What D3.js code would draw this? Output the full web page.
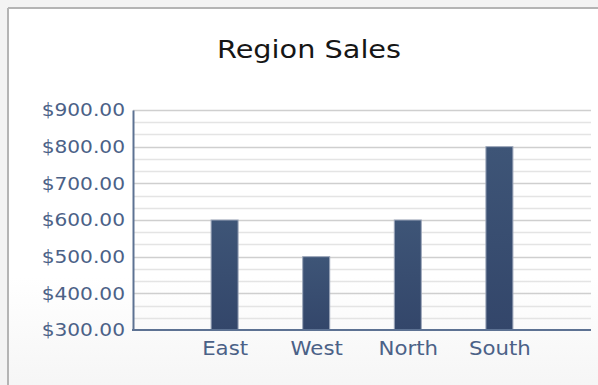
<!DOCTYPE html>
<html>
<head>
<meta charset="utf-8">
<script src="https://cdn.jsdelivr.net/npm/d3@7/dist/d3.min.js"></script>
<style>
  html, body { margin: 0; padding: 0; background: #f3f3f3; }
  svg { display: block; }
  text { font-family: "DejaVu Sans", Verdana, sans-serif; }
</style>
</head>
<body>
<svg id="chart" width="598" height="385"></svg>
<script>
// Sales per region
const regions = ["East", "West", "North", "South"];
const sales = [600, 500, 600, 800];
const yTicks = [300, 400, 500, 600, 700, 800, 900];
const chartTitle = "Region Sales";

const W = 598, H = 385;
const plot = { left: 133, right: 591, top: 110, bottom: 330 };

const svg = d3.select("#chart");
const defs = svg.append("defs");

// panel background: white fading to light grey near the bottom
const bg = defs.append("linearGradient").attr("id", "panelBg")
  .attr("x1", 0).attr("y1", 0).attr("x2", 0).attr("y2", 1);
bg.append("stop").attr("offset", "0.7").attr("stop-color", "#ffffff");
bg.append("stop").attr("offset", "1").attr("stop-color", "#f5f5f5");

const barGrad = defs.append("linearGradient").attr("id", "barFill")
  .attr("x1", 0).attr("y1", 0).attr("x2", 0).attr("y2", 1);
barGrad.append("stop").attr("offset", "0").attr("stop-color", "#3e5577");
barGrad.append("stop").attr("offset", "1").attr("stop-color", "#33466a");

// panel with a grey top/left frame
svg.append("rect").attr("x", 8).attr("y", 8).attr("width", W).attr("height", H)
  .attr("fill", "url(#panelBg)");
svg.append("line").attr("x1", 8).attr("x2", W).attr("y1", 8).attr("y2", 8)
  .attr("stroke", "#b4b4b4").attr("stroke-width", 2);
svg.append("line").attr("x1", 8).attr("x2", 8).attr("y1", 8).attr("y2", H)
  .attr("stroke", "#b4b4b4").attr("stroke-width", 2);

// widen glyphs slightly so text has the broad look of the original font
function stretch(sel, factor) {
  sel.each(function () {
    const len = this.getComputedTextLength();
    d3.select(this).attr("textLength", len * factor).attr("lengthAdjust", "spacingAndGlyphs");
  });
}

const y = d3.scaleLinear().domain([300, 900]).range([plot.bottom, plot.top]);
const x = d3.scalePoint().domain(regions).range([plot.left, plot.right]).padding(1);

// minor gridlines every third of a major step
const minor = [];
for (let i = 0; i < yTicks.length - 1; i++) {
  minor.push(yTicks[i] + 100 / 3, yTicks[i] + 200 / 3);
}
svg.append("g").selectAll("line").data(minor).join("line")
  .attr("x1", plot.left).attr("x2", plot.right)
  .attr("y1", d => Math.round(y(d)) + 0.5).attr("y2", d => Math.round(y(d)) + 0.5)
  .attr("stroke", "#e4e4e4").attr("stroke-width", 1.5);
svg.append("g").selectAll("line").data(yTicks.slice(1)).join("line")
  .attr("x1", plot.left).attr("x2", plot.right)
  .attr("y1", d => Math.round(y(d)) + 0.5).attr("y2", d => Math.round(y(d)) + 0.5)
  .attr("stroke", "#cfcfcf").attr("stroke-width", 1.5);

// bars
svg.append("g").selectAll("rect").data(regions).join("rect")
  .attr("x", d => x(d) - 13.5)
  .attr("width", 27)
  .attr("y", (d, i) => y(sales[i]))
  .attr("height", (d, i) => y(300) - y(sales[i]))
  .attr("fill", "url(#barFill)")
  .attr("stroke", "#9ba6b9").attr("stroke-width", 1);

// y axis
const yAxis = svg.append("g").attr("transform", `translate(${plot.left},0)`)
  .call(d3.axisLeft(y).tickValues(yTicks).tickSize(0).tickPadding(8)
    .tickFormat(d => "$" + d3.format(".2f")(d)));
yAxis.select(".domain").attr("stroke", "#5d7293").attr("stroke-width", 2);
yAxis.selectAll("text").attr("font-size", 18).attr("fill", "#4b6187")
  .attr("font-family", "DejaVu Sans").call(stretch, 1.12);

// x axis
const xAxis = svg.append("g").attr("transform", `translate(0,${plot.bottom})`)
  .call(d3.axisBottom(x).tickSize(0).tickPadding(12));
xAxis.select(".domain").attr("stroke", "#5d7293").attr("stroke-width", 2)
  .attr("d", `M${plot.left - 1},0H${plot.right}`);
xAxis.selectAll("text").attr("font-size", 19).attr("fill", "#4b6187")
  .attr("font-family", "DejaVu Sans").call(stretch, 1.12);

// title
svg.append("text").attr("x", 309).attr("y", 58).attr("text-anchor", "middle")
  .attr("font-size", 25).attr("fill", "#161616").text(chartTitle).call(stretch, 1.15);
</script>
</body>
</html>
